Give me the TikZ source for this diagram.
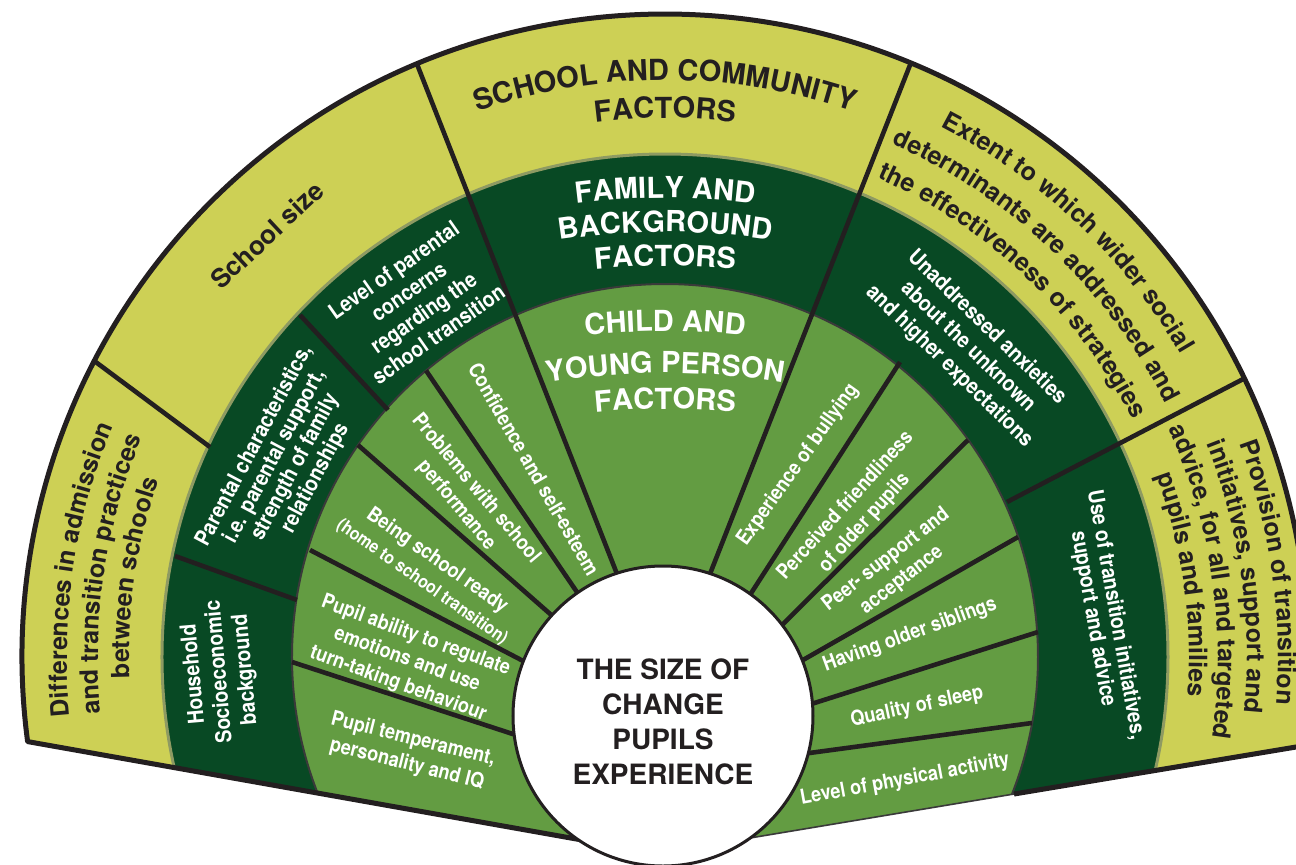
\documentclass[tikz,border=0pt]{standalone}
\usepackage{fontspec}
\setmainfont{TeX Gyre Heros}
\newfontfamily\condfont[FakeStretch=0.88]{TeX Gyre Heros}
\usetikzlibrary{decorations.text}
\definecolor{limeg}{HTML}{CDD055}
\definecolor{darkg}{HTML}{084924}
\definecolor{midg}{HTML}{639C42}
\definecolor{ink}{HTML}{231F20}
\definecolor{edgeol}{HTML}{8E9A62}
\definecolor{edgedk}{HTML}{3A3A3A}
\newcommand\limefont{\fontsize{12.5}{15}\selectfont\bfseries}
\newcommand\hdrfont{\fontsize{14.5}{17}\selectfont\bfseries}
\begin{document}
\begin{tikzpicture}[x=0.5pt,y=0.5pt,
  spoke/.style={draw=ink,line width=2.3pt},
  wmid/.style={text=white,align=center,inner sep=0pt,font=\condfont\fontsize{10.3}{12.8}\selectfont\bfseries},
  wdark/.style={text=white,align=center,inner sep=0pt,font=\condfont\fontsize{11}{13}\selectfont\bfseries},
  arclime/.style={decorate,decoration={text along path,text align=center,text color=ink,text={|\limefont|#1}}},
  archdr/.style={decorate,decoration={text along path,text align=center,text color=ink,text={|\hdrfont|#1}}},
  archdrw/.style={decorate,decoration={text along path,text align=center,text color=white,text={|\hdrfont|#1}}}]
\useasboundingbox (-665,-207) rectangle (631,657);
% fan
\fill[limeg] (187.56:643) arc[start angle=187.56,end angle=-7.96,radius=643] -- (-7.5,-196.4) -- cycle;
\begin{scope}
\clip (187.56:643) arc[start angle=187.56,end angle=-7.96,radius=643] -- (-7.5,-196.4) -- cycle;
\fill[darkg] (0,0) circle[radius=503];
\fill[midg] (0,0) circle[radius=373];
\draw[edgeol,line width=1.5pt] (0,0) circle[radius=503];
\draw[edgedk,line width=1pt] (0,0) circle[radius=373];
% spokes
\draw[spoke] (-576,300) -- (-455,210);
\draw[spoke] (-250,598) -- (-46,78);
\draw[spoke] (247,597) -- (43,78);
\draw[spoke] (584,281) -- (342,155);
\draw[spoke] (-490,101) -- (-368,57);
\draw[spoke] (-365,342) -- (-277,247);
\draw[spoke] (-373,-5) -- (-143,-80);
\draw[spoke] (-355,107) -- (-136,-7);
\draw[spoke] (-307,212) -- (-108,37);
\draw[spoke] (-239,286.5) -- (-84,59);
\draw[spoke] (235,295) -- (83,59);
\draw[spoke] (303,217) -- (115,30);
\draw[spoke] (353,120) -- (131,-7);
\draw[spoke] (373,25) -- (140,-49);
\draw[spoke] (367,-66) -- (137,-97);
\end{scope}
% outer border
\draw[ink,line width=2.5pt,line join=round] (-7.5,-196.4) -- (187.56:643) arc[start angle=187.56,end angle=-7.96,radius=643] -- (349,-137);
\draw[edgedk,line width=0.8pt] (349,-137) -- (-7.5,-196.4);
% centre circle
\draw[ink,fill=white,line width=1.5pt] (-2,-59) circle[radius=150];
\node[font=\fontsize{14}{17.5}\selectfont\bfseries,text=ink,align=center,inner sep=0pt] (centre) at (-2,-65) {THE SIZE OF\\CHANGE\\PUPILS\\EXPERIENCE};
% outer ring texts
\path[archdr={SCHOOL AND COMMUNITY}] (120:577) arc[start angle=120,end angle=60,radius=577];
\path[archdr={FACTORS}] (120:539) arc[start angle=120,end angle=60,radius=539];
\path[arclime={Differences in admission}] (201.5:598) arc[start angle=201.5,end angle=141.5,radius=598];
\path[arclime={and transition practices}] (201.5:567) arc[start angle=201.5,end angle=141.5,radius=567];
\path[arclime={between schools}] (201.5:536) arc[start angle=201.5,end angle=141.5,radius=536];
\node[text=ink,font=\fontsize{13}{15}\selectfont\bfseries,rotate=43,inner sep=0pt] (size) at (-398,422) {School size};
\path[arclime={Extent to which wider social}] (76.5:598) arc[start angle=76.5,end angle=16.5,radius=598];
\path[arclime={determinants are addressed and}] (76.5:561) arc[start angle=76.5,end angle=16.5,radius=561];
\path[arclime={the effectiveness of strategies}] (76.5:524) arc[start angle=76.5,end angle=16.5,radius=524];
\path[arclime={Provision of transition}] (38:613) arc[start angle=38,end angle=-22,radius=613];
\path[arclime={initiatives, support and}] (38:582) arc[start angle=38,end angle=-22,radius=582];
\path[arclime={advice, for all and targeted}] (38:553) arc[start angle=38,end angle=-22,radius=553];
\path[arclime={pupils and families}] (38:524) arc[start angle=38,end angle=-22,radius=524];
% family ring headers
\path[archdrw={FAMILY AND}] (-145.5,443.7) arc[start angle=102,end angle=78,radius=700];
\path[archdrw={BACKGROUND}] (-145.5,409.7) arc[start angle=102,end angle=78,radius=700];
\path[archdrw={FACTORS}] (-145.5,375.7) arc[start angle=102,end angle=78,radius=700];
% child ring headers
\path[archdrw={CHILD AND}] (-145.5,310.7) arc[start angle=102,end angle=78,radius=700];
\path[archdrw={YOUNG PERSON}] (-145.5,268.7) arc[start angle=102,end angle=78,radius=700];
\path[archdrw={FACTORS}] (-145.5,232.7) arc[start angle=102,end angle=78,radius=700];
% dark ring texts
\node[wdark,rotate=95] (house) at (-445,-15) {Household\\Socioeconomic\\background};
\node[wdark,rotate=62,font=\condfont\fontsize{11}{11.5}\selectfont\bfseries] (parchar) at (-380,195) {Parental characteristics,\\i.e. parental support,\\strength of family\\relationships};
\node[wdark,rotate=35] (parconc) at (-249,355) {Level of parental\\concerns\\regarding the\\school transition};
\node[wdark,rotate=-44,font=\condfont\fontsize{11}{13.5}\selectfont\bfseries] (anx) at (303,310) {Unaddressed anxieties\\about the unknown\\and higher expectations};
\node[wdark,rotate=-80,font=\condfont\fontsize{11}{11.5}\selectfont\bfseries] (usetr) at (439,40) {Use of transition initiatives,\\support and advice};
% child ring texts
\node[wmid,rotate=-14] (ptemp) at (-255,-95) {Pupil temperament,\\personality and IQ};
\node[wmid,rotate=-20] (pabil) at (-258,-3) {Pupil ability to regulate\\emotions and use\\turn-taking behaviour};
\node[wmid,rotate=-35] (ready) at (-235,86) {Being school ready\\{\fontsize{9}{11}\selectfont (home to school transition)}};
\node[wmid,rotate=-50] (probs) at (-199,160) {Problems with school\\performance};
\node[wmid,rotate=-60] (conf) at (-131,188) {Confidence and self-esteem};
\node[wmid,rotate=54.5] (bully) at (133,192) {Experience of bullying};
\node[wmid,rotate=48] (friend) at (190,142.5) {Perceived friendliness\\of older pupils};
\node[wmid,rotate=38] (peer) at (229,87) {Peer- support and\\acceptance};
\node[wmid,rotate=20] (sibl) at (245,22) {Having older siblings};
\node[wmid,rotate=12] (sleep) at (252,-50) {Quality of sleep};
\node[wmid,rotate=10.5] (phys) at (240,-123) {Level of physical activity};
\end{tikzpicture}
\end{document}
